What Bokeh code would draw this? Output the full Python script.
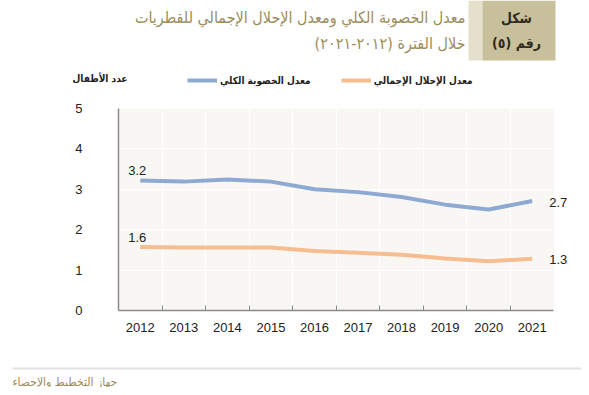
from bokeh.plotting import figure
from bokeh.layouts import column
from bokeh.models import (Label, BoxAnnotation, Legend, LegendItem, FixedTicker, Range1d)
from bokeh.embed import file_html
from bokeh.resources import INLINE

years = [2012, 2013, 2014, 2015, 2016, 2017, 2018, 2019, 2020, 2021]
fertility = [3.22, 3.19, 3.24, 3.19, 3.00, 2.93, 2.81, 2.62, 2.50, 2.71]
replacement = [1.57, 1.56, 1.56, 1.56, 1.47, 1.43, 1.38, 1.29, 1.22, 1.28]
y_ticks = [0, 1, 2, 3, 4, 5]

name_fert = "معدل الخصوبة الكلي"
name_repl = "معدل الإحلال الإجمالي"
title1 = "معدل الخصوبة الكلي ومعدل الإحلال الإجمالي للقطريات"
title2 = "خلال الفترة (٢٠١٢-٢٠٢١)"
box1 = "شكل"
box2 = "رقم (٥)"
ylabel = "عدد الأطفال"
source_txt = "جهاز التخطيط والإحصاء"

RLM = "\u200f"
def rtl(s):
    return RLM + s + RLM

W = 581
HH = 90          # header height
CH = 266         # chart height
FTH = 31         # footer height
BLUE = "#8eaad3"
ORANGE = "#f6bd90"
OLIVE = "#9c8d5c"
AR = "DejaVu Sans Condensed, DejaVu Sans"
LAT = "Liberation Sans"
NAN = float("nan")

def no_align(f):
    try:
        f.frame_align = False
    except Exception:
        pass

def pixel_fig(h):
    f = figure(width=W, height=h, output_backend="svg", toolbar_location=None,
               x_range=Range1d(0, W), y_range=Range1d(h, 0),
               x_axis_type=None, y_axis_type=None,
               min_border=0, min_border_left=0, min_border_right=0,
               min_border_top=0, min_border_bottom=0)
    f.outline_line_color = None
    f.background_fill_color = "white"
    f.border_fill_color = "white"
    f.xgrid.visible = False
    f.ygrid.visible = False
    no_align(f)
    return f

# ---------------- header ----------------
hdr = pixel_fig(HH)
hdr.add_layout(BoxAnnotation(left=468, right=482, top=0, bottom=60,
                             fill_color="#e5e0cb", fill_alpha=1, line_color=None))
hdr.add_layout(BoxAnnotation(left=482, right=555, top=0, bottom=60,
                             fill_color="#c8c09b", fill_alpha=1, line_color=None))
def hlabel(x, y, text, **kw):
    hdr.add_layout(Label(x=x, y=y, text=text, **kw))

hlabel(516, 17, box1, text_font=AR, text_font_size="14px", text_font_style="bold",
       text_color="#2e2a1e", text_align="center", text_baseline="middle")
hlabel(516, 42, rtl(box2), text_font=AR, text_font_size="14px", text_font_style="bold",
       text_color="#2e2a1e", text_align="center", text_baseline="middle")
hlabel(465, 17, title1, text_font=AR, text_font_size="16px", text_color=OLIVE,
       text_align="right", text_baseline="middle")
hlabel(465, 43, rtl(title2), text_font=AR, text_font_size="16px", text_color=OLIVE,
       text_align="right", text_baseline="middle")
hlabel(127, 78, ylabel, text_font=AR, text_font_size="10px", text_font_style="bold",
       text_color="#222222", text_align="right", text_baseline="middle")

sw1 = hdr.line([NAN], [NAN], line_color=BLUE, line_width=4)
sw2 = hdr.line([NAN], [NAN], line_color=ORANGE, line_width=4)
legend = Legend(items=[LegendItem(label=name_fert, renderers=[sw1]),
                       LegendItem(label=name_repl, renderers=[sw2])],
                orientation="horizontal", location=(187, 2),
                padding=0, margin=0, spacing=30, glyph_width=30, glyph_height=16,
                label_standoff=3, label_text_font=AR, label_text_font_size="10px",
                label_text_font_style="bold", label_text_color="#222222",
                background_fill_alpha=0, border_line_color=None)
hdr.add_layout(legend)

# ---------------- chart ----------------
L = 118
T = 108 - HH
FR = 576            # frame right (room for end labels)
R = W - FR
B = CH - (310 - HH)
PAD_R = (FR - 553.5) / 43.5

p = figure(width=W, height=CH, output_backend="svg", toolbar_location=None,
           x_range=(years[0] - 0.5, years[-1] + 0.5 + PAD_R), y_range=(0, 5),
           min_border_left=L, min_border_right=R, min_border_top=T, min_border_bottom=B)
p.outline_line_color = None
p.background_fill_color = "white"
p.border_fill_color = "white"
no_align(p)

p.add_layout(BoxAnnotation(left=years[0] - 0.5, right=years[-1] + 0.5, bottom=0, top=5,
                           fill_color="#f8f7f3", fill_alpha=1, line_color=None, level="image"))

p.xaxis.bounds = (years[0] - 0.5, years[-1] + 0.5)
p.xaxis.ticker = FixedTicker(ticks=years, minor_ticks=[y + 0.5 for y in years[:-1]])
p.xaxis.major_tick_line_color = None
p.xaxis.minor_tick_in = 5
p.xaxis.minor_tick_out = 0
p.xaxis.minor_tick_line_color = "#8a8a8a"
p.xaxis.axis_line_color = "#8a8a8a"
p.xaxis.axis_line_width = 1.5
p.xaxis.major_label_text_font = LAT
p.xaxis.major_label_text_font_size = "13px"
p.xaxis.major_label_text_color = "#222222"
p.xaxis.major_label_standoff = 6

p.yaxis.ticker = FixedTicker(ticks=y_ticks)
p.yaxis.major_tick_line_color = None
p.yaxis.minor_tick_line_color = None
p.yaxis.axis_line_color = "#8a8a8a"
p.yaxis.axis_line_width = 1.5
p.yaxis.major_label_text_font = LAT
p.yaxis.major_label_text_font_size = "13px"
p.yaxis.major_label_text_color = "#222222"
p.yaxis.major_label_standoff = 30

p.xgrid.grid_line_color = None
p.xgrid.minor_grid_line_color = "white"
p.xgrid.minor_grid_line_width = 1.2
p.xgrid.bounds = (0, 5)
p.ygrid.grid_line_color = "white"
p.ygrid.grid_line_width = 1.2
p.ygrid.bounds = (years[0] - 0.5, years[-1] + 0.5)

p.line(years, fertility, line_color=BLUE, line_width=4)
p.line(years, replacement, line_color=ORANGE, line_width=4)

def dl(x, y, v, **kw):
    p.add_layout(Label(x=x, y=y, text=f"{v:.1f}", text_font=LAT, text_font_size="13px",
                       text_color="#222222", **kw))

dl(years[0], fertility[0], fertility[0], x_offset=-3, y_offset=5, text_align="center", text_baseline="bottom")
dl(years[0], replacement[0], replacement[0], x_offset=-3, y_offset=5, text_align="center", text_baseline="bottom")
dl(years[-1], fertility[-1], fertility[-1], x_offset=17, y_offset=-1, text_align="left", text_baseline="middle")
dl(years[-1], replacement[-1], replacement[-1], x_offset=17, y_offset=-1, text_align="left", text_baseline="middle")

# ---------------- footer ----------------
ft = pixel_fig(FTH)
ft.add_layout(BoxAnnotation(left=12, right=W, top=11, bottom=13,
                            fill_color="#e2e2e0", fill_alpha=1, line_color=None))
ft.add_layout(Label(x=12, y=25, text=source_txt, text_font=AR, text_font_size="12px",
                    text_color=OLIVE, text_align="left", text_baseline="middle"))

layout = column(hdr, p, ft, spacing=0)
open("out.html", "w").write(file_html(layout, INLINE))
